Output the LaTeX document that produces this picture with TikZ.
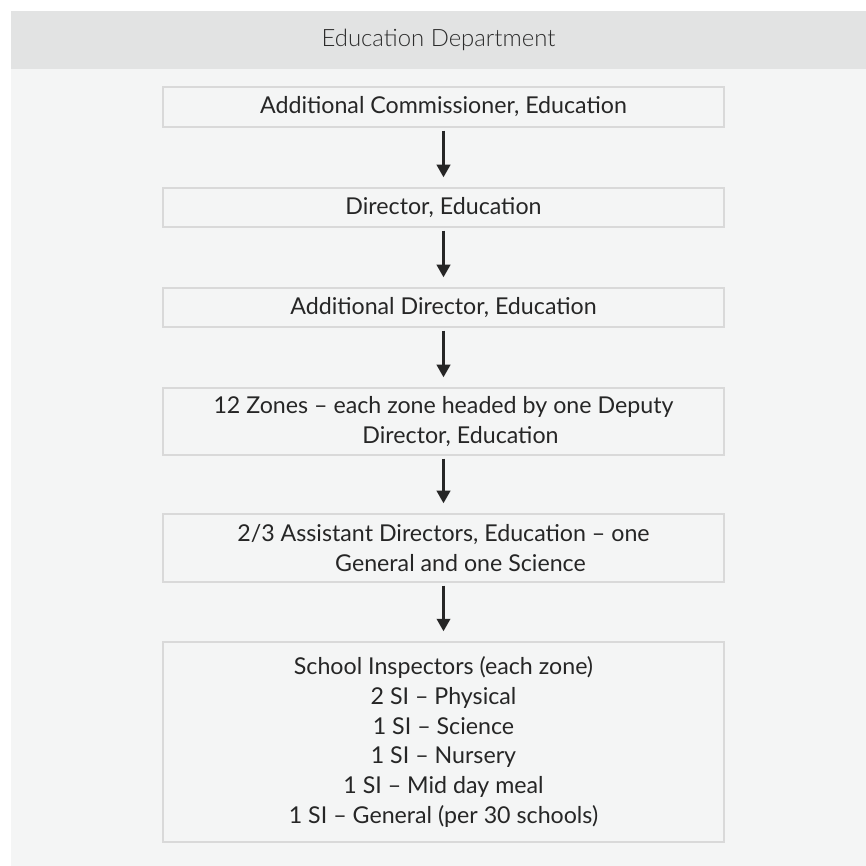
\documentclass[tikz,border=0pt]{standalone}
\usepackage{fontspec}
\setmainfont{Lato}
\newfontfamily\edheadfont{Lato Light}
\usetikzlibrary{arrows.meta,calc,positioning}
\definecolor{edPanel}{HTML}{F4F5F5}
\definecolor{edHeader}{HTML}{E2E3E3}
\definecolor{edBoxStroke}{HTML}{D9D9D9}
\definecolor{edInk}{HTML}{262626}
\definecolor{edHeadInk}{HTML}{2C2C2C}

\begin{document}
\begin{tikzpicture}[x=1cm,y=1cm,
  font=\fontsize{13.2}{17}\selectfont,text=edInk,
  edbox/.style={draw=edBoxStroke,fill=edPanel,line width=0.85pt,
    minimum width=11.22cm,align=center,inner sep=0pt},
  edarrow/.style={draw=edInk,line width=1.3pt,
    -{Triangle[length=0.25cm,width=0.27cm]},
    shorten <=0.06cm,shorten >=0.2cm}]
  \path[use as bounding box] (0,0) rectangle (17.32,17.32);
  \fill[white] (0,0) rectangle (17.32,17.32);
  \fill[edPanel] (0.22,0) rectangle (17.32,17.1);
  \fill[edHeader] (0.22,15.94) rectangle (17.32,17.1);
  \node[font=\edheadfont\fontsize{13.6}{16}\selectfont,text=edHeadInk] (head)
    at (8.77,16.52) {Education Department};

  % One box per level of the hierarchy, top to bottom.
  \foreach \n/\y/\h/\txt in {
      1/15.18/0.8/{Additional Commissioner, Education},
      2/13.17/0.78/{Director, Education},
      3/11.17/0.78/{Additional Director, Education},
      4/8.89/1.34/{12 Zones -- each zone headed by one Deputy\\\hspace*{0.68cm}Director, Education},
      5/6.36/1.36/{2/3 Assistant Directors, Education -- one\\\hspace*{0.68cm}General and one Science},
      6/2.48/4.0/{School Inspectors (each zone)\\2 SI -- Physical\\1 SI -- Science\\1 SI -- Nursery\\1 SI -- Mid day meal\\1 SI -- General (per 30 schools)}}
    {\node[edbox,minimum height=\h cm] (b\n) at (8.87,\y) {\txt};}

  \foreach \i/\j in {1/2,2/3,3/4,4/5,5/6}
    {\draw[edarrow] (b\i) -- (b\j);}
\end{tikzpicture}
\end{document}
